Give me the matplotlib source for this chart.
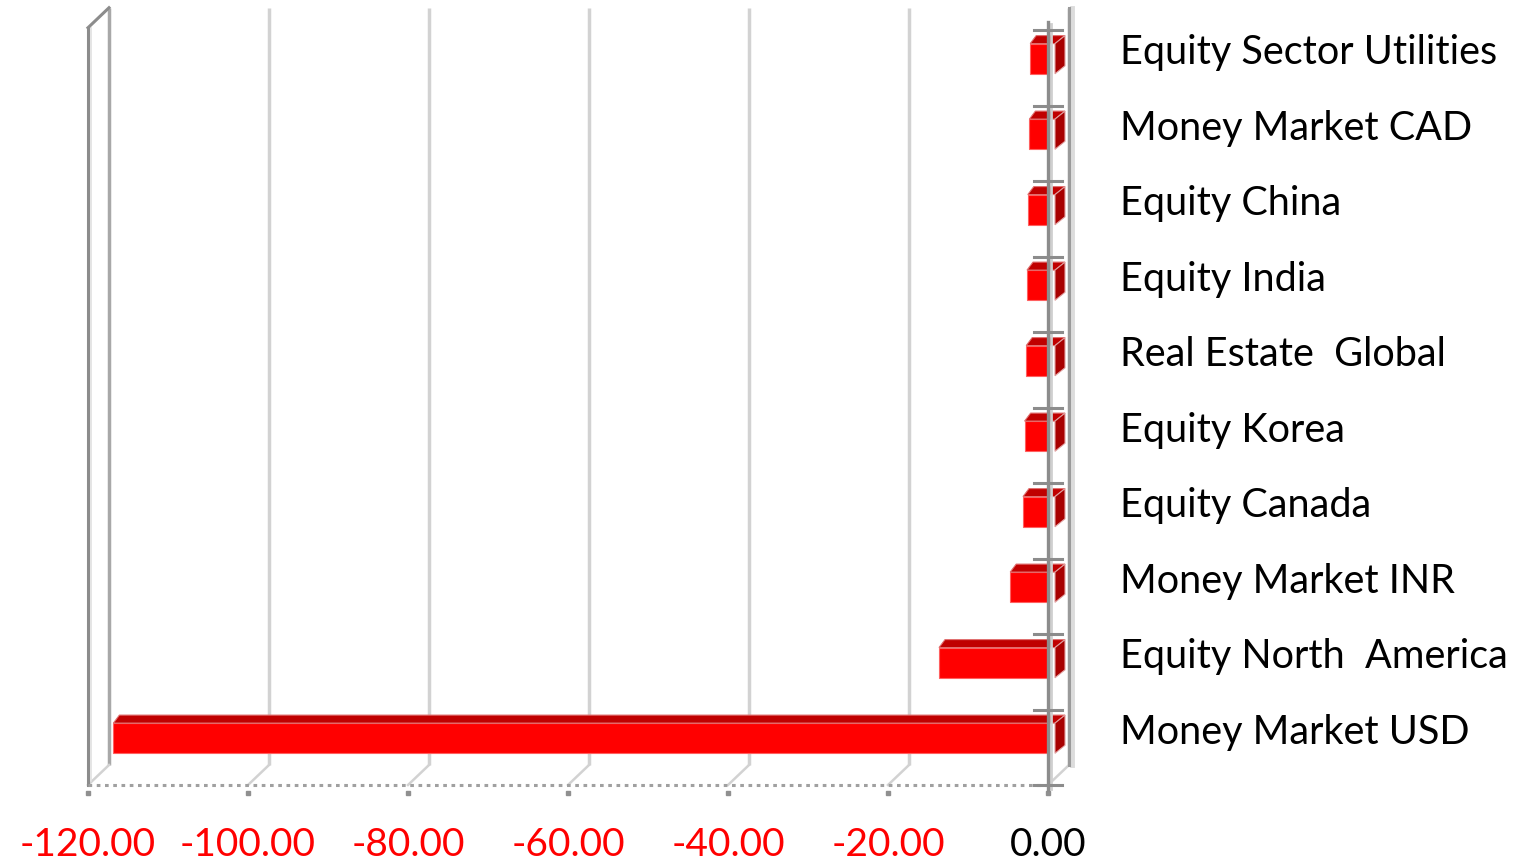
import numpy as np
import matplotlib.pyplot as plt
from matplotlib.patches import Polygon

# data, bottom to top
categories = ["Money Market USD", "Equity North  America", "Money Market INR",
              "Equity Canada", "Equity Korea", "Real Estate  Global",
              "Equity India", "Equity China", "Money Market CAD",
              "Equity Sector Utilities"]
values = [-117.7, -14.5, -5.6, -4.0, -3.8, -3.6, -3.5, -3.4, -3.2, -3.1]
xticks = [-120, -100, -80, -60, -40, -20, 0]

plt.rcParams['font.family'] = ['Lato', 'DejaVu Sans']

fig = plt.figure(figsize=(15.17, 8.6), dpi=100)
W, H = 1517, 860
ax = fig.add_axes([88 / W, 75 / H, 960 / W, 755 / H])
ax.set_xlim(-120, 0)
ax.set_ylim(0, 10)
for s in ax.spines.values():
    s.set_visible(False)

# pixel -> data helpers
SX, SY = 8.0, 75.5
bdx, bdy = 21 / SX, 20 / SY      # back wall offset
top = 10.03

# back wall grid lines and floor diagonals
for x in xticks:
    c = '#a8a8a8' if x in (-120, 0) else '#d2d2d2'
    ax.plot([x + bdx, x + bdx], [bdy, top + bdy], color=c, lw=2.5,
            clip_on=False, zorder=1, solid_capstyle='butt')
    ax.plot([x, x + bdx], [0, bdy], color='#d2d2d2', lw=1.8, clip_on=False, zorder=1)

# left wall
ax.plot([-120, -120], [0, top], color='#8c8c8c', lw=2.2, clip_on=False, zorder=2)
ax.plot([-119.6, -119.6], [0.05, top], color='#e0e0e0', lw=1.2, clip_on=False, zorder=2)
ax.plot([-120, -120 + bdx], [top, top + bdy], color='#8c8c8c', lw=2.2, clip_on=False, zorder=2)

# floor front edge (dotted) and small tick dots
ax.plot([-120, 0], [0, 0], color='#a0a0a0', lw=2.2, ls=(0, (1.2, 1.5)), clip_on=False, zorder=2)
ax.plot(xticks, [-0.1] * len(xticks), ls='none', marker='s', ms=2.5, color='#909090',
        clip_on=False, zorder=2)

# bars with pseudo 3d faces
off = 7 / SX
ddx, ddy = 10 / SX, 8 / SY
y0, y1 = 0.42, 0.82
ax.barh(np.arange(len(values)) + y0, [abs(v) for v in values], left=values,
        height=y1 - y0, align='edge', color='#ff0000', zorder=3,
        edgecolor='#ff6060', linewidth=0.8)
for b in ax.patches:
    b.set_x(b.get_x() + off)
for i, v in enumerate(values):
    xl, xr = v + off, off
    topf = Polygon([(xl, i + y1), (xr, i + y1), (xr + ddx, i + y1 + ddy), (xl + ddx * 0.6, i + y1 + ddy)],
                   closed=True, facecolor='#c00000', edgecolor='#e07070', lw=0.8,
                   clip_on=False, zorder=3)
    side = Polygon([(xr, i + y0), (xr, i + y1), (xr + ddx, i + y1 + ddy), (xr + ddx, i + y0 + ddy)],
                   closed=True, facecolor='#a80000', edgecolor='#e0a0a0', lw=0.8,
                   clip_on=False, zorder=3)
    ax.add_patch(topf)
    ax.add_patch(side)

# right wall back edge
ax.plot([bdx + 0.4, bdx + 0.4], [bdy, top + bdy], color='#dcdcdc', lw=3.5, clip_on=False, zorder=2)
ax.plot([bdx, bdx], [bdy, top + bdy], color='#9a9a9a', lw=2.2, clip_on=False, zorder=2)

# front value axis over the bars, with category boundary ticks
ax.plot([0.35, 0.35], [-0.05, top + 0.05], color='#cfcfcf', lw=2, clip_on=False, zorder=4)
ax.plot([0, 0], [-0.07, top + 0.07], color='#8c8c8c', lw=2.4, clip_on=False, zorder=5)
for i in range(len(values) + 1):
    ax.plot([-1.8, 1.8], [i, i], color='#8c8c8c', lw=2.2, clip_on=False, zorder=5)

# tick labels
ax.set_xticks(xticks)
ax.set_xticklabels([f"{x:.2f}" for x in xticks], fontsize=28)
for lab, x in zip(ax.get_xticklabels(), xticks):
    lab.set_color('black' if x == 0 else '#ff0000')
ax.tick_params(axis='x', length=0, pad=30)

ax.yaxis.tick_right()
ax.set_yticks(np.arange(len(categories)) + 0.745)
ax.set_yticklabels(categories, fontsize=28.5)
ax.tick_params(axis='y', length=0, pad=52)

fig.savefig('out.png', dpi=100)
